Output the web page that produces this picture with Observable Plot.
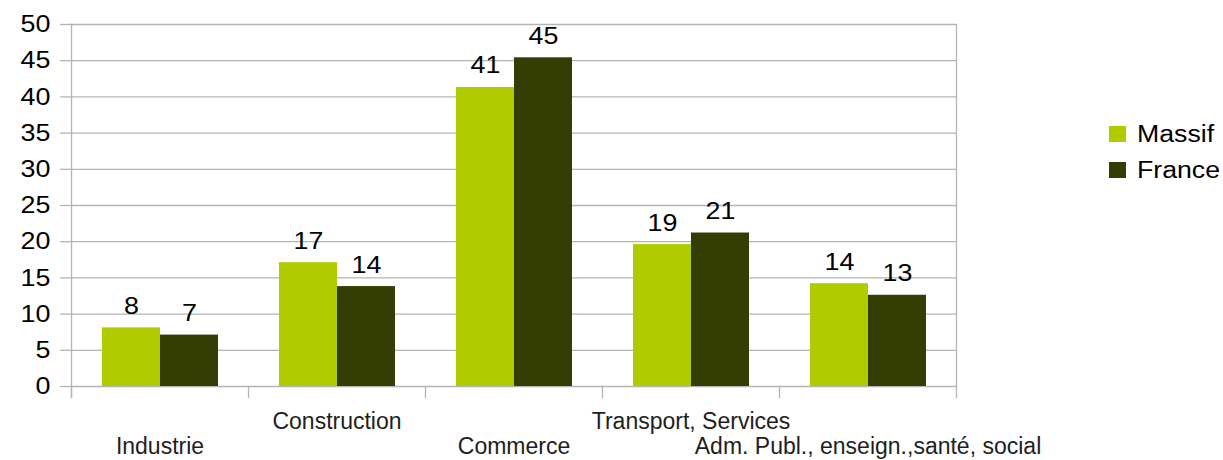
<!DOCTYPE html>
<html>
<head>
<meta charset="utf-8">
<script src="https://cdn.jsdelivr.net/npm/d3@7"></script>
<script src="https://cdn.jsdelivr.net/npm/@observablehq/plot@0.6"></script>
<style>
  html, body { margin: 0; padding: 0; background: #fff; }
  #wrap { position: relative; width: 1223px; height: 460px; overflow: hidden; }
  .legend { position: absolute; left: 1109px; top: 116px; font-family: "Liberation Sans", Arial, sans-serif; font-size: 23px; color: #000; }
  .legend .item { display: flex; align-items: center; height: 36px; }
  .legend .sw { width: 17px; height: 16px; margin-right: 11px; flex: none; }
  .legend .txt { display: inline-block; transform: scaleX(1.16); transform-origin: left center; }
</style>
</head>
<body>
<div id="wrap"></div>
<script>
// ---- data ----
const categories = ["Industrie", "Construction", "Commerce", "Transport, Services", "Adm. Publ., enseign.,santé, social"];
const series = ["Massif", "France"];
const massifValues = [8.1, 17.1, 41.3, 19.6, 14.2];
const franceValues = [7.1, 13.8, 45.4, 21.2, 12.6];
const massifLabels = ["8", "17", "41", "19", "14"];
const franceLabels = ["7", "14", "45", "21", "13"];
const yTicks = [0, 5, 10, 15, 20, 25, 30, 35, 40, 45, 50];
const seriesColors = ["#b0cc00", "#333d04"];

// ---- table ----
const table = categories.flatMap((c, i) => [
  {category: c, series: series[0], value: massifValues[i], label: massifLabels[i]},
  {category: c, series: series[1], value: franceValues[i], label: franceLabels[i]}
]);

// ---- layout ----
const W = 1223, H = 460;
const mL = 69, mR = 266, mT = 24, mB = 63, yInsetBottom = 11;
const innerH = H - mT - mB;
const gridColor = "#b5b5b5";
const font = "'Liberation Sans', Arial, sans-serif";
const digitStretch = 1.12;

const chart = Plot.plot({
  width: W,
  height: H,
  marginLeft: mL,
  marginRight: mR,
  marginTop: mT,
  marginBottom: mB,
  style: {fontFamily: font, background: "#fff", overflow: "visible"},
  fx: {domain: categories, padding: 0, axis: null, label: null},
  x: {domain: series, paddingInner: 0, paddingOuter: 0.52, axis: null, label: null},
  y: {domain: [0, 50], insetBottom: yInsetBottom, axis: null, label: null},
  color: {domain: series, range: seriesColors},
  marks: [
    Plot.gridY(yTicks, {stroke: gridColor, strokeOpacity: 1, strokeWidth: 1.3}),
    Plot.axisY(yTicks, {anchor: "left", label: null, tickSize: 11, tickPadding: 10, fontSize: 24, stroke: gridColor, strokeOpacity: 1, strokeWidth: 1.3, fill: "#000", className: "stretchme"}),
    // short separators below the baseline at each category boundary
    Plot.frame({anchor: "left", insetTop: innerH - yInsetBottom, stroke: gridColor, strokeWidth: 1.3}),
    // full-height left and right lines
    Plot.frame({anchor: "left", fx: () => categories[0], stroke: gridColor, strokeWidth: 1.3}),
    Plot.frame({anchor: "right", fx: () => categories[categories.length - 1], stroke: gridColor, strokeWidth: 1.3}),
    Plot.barY(table, {fx: "category", x: "series", y: "value", fill: "series"}),
    Plot.text(table, {fx: "category", x: "series", y: "value", text: "label", dy: -14, lineAnchor: "bottom", fontSize: 24, fill: "#000", className: "stretchme"}),
    // staggered category labels
    Plot.text(categories.filter((d, i) => i % 2 === 1), {fx: d => d, text: d => d, frameAnchor: "bottom", lineAnchor: "bottom", dy: 31, fontSize: 23, fill: "#1e1e1e"}),
    Plot.text(categories.filter((d, i) => i % 2 === 0), {fx: d => d, text: d => d, frameAnchor: "bottom", lineAnchor: "bottom", dy: 56, fontSize: 23, fill: "#1e1e1e"})
  ]
});

// widen the digits slightly, as in the reference (scale about each text's own anchor)
chart.querySelectorAll(".stretchme text").forEach(t => {
  const tr = t.getAttribute("transform") || "";
  const xa = t.getAttribute("x");
  const x = xa !== null && isFinite(+xa) ? +xa : 0;
  if (x !== 0) {
    t.setAttribute("x", 0);
    t.setAttribute("transform", `${tr} translate(${x},0) scale(${digitStretch},1)`);
  } else {
    t.setAttribute("transform", `${tr} scale(${digitStretch},1)`);
  }
});

const wrap = document.getElementById("wrap");
wrap.appendChild(chart);

// legend
const legend = document.createElement("div");
legend.className = "legend";
series.forEach((s, i) => {
  const item = document.createElement("div");
  item.className = "item";
  const sw = document.createElement("div");
  sw.className = "sw";
  sw.style.background = seriesColors[i];
  const label = document.createElement("span");
  label.className = "txt";
  label.textContent = s;
  item.appendChild(sw);
  item.appendChild(label);
  legend.appendChild(item);
});
wrap.appendChild(legend);
</script>
</body>
</html>
